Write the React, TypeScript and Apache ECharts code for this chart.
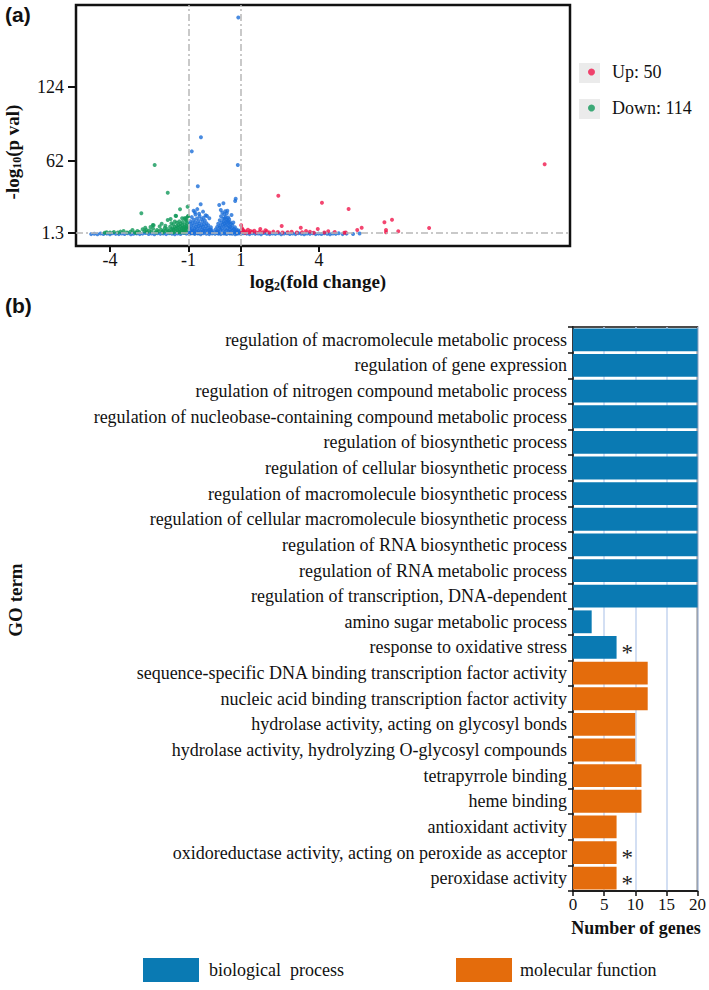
import React, { useEffect, useRef } from 'react';
import * as echarts from 'echarts';

// ---------- Panel (a): volcano plot ----------
const upPoints: [number, number][] = [
  [12.63, 59], [2.44, 32.6], [4.11, 26.7], [5.13, 21.4], [6.79, 12.4], [6.5, 10.2], [2.57, 7.1],
  [3.3, 5.7], [3.95, 4.6], [5.63, 5.7], [5.46, 3.8], [4.35, 2.7], [5.02, 1.6], [8.21, 5.5],
  [7.03, 2.7], [6.56, 3.8], [6.56, 1.8], [1.75, 4.6], [1.37, 2.9], [1.05, 5.2], [2.0, 2.7],
  [2.42, 2.1], [2.8, 1.8], [3.5, 2.9], [1.73, 2.4], [1.06, 2.0], [3.15, 1.6], [3.8, 1.5],
  [4.96, 1.5], [1.1, 3.4], [1.15, 1.8], [1.2, 2.6], [1.28, 4.0], [1.33, 1.6], [1.45, 2.2],
  [1.52, 3.1], [1.6, 1.7], [1.85, 1.9], [1.95, 3.6], [2.1, 1.6], [2.25, 2.4], [2.6, 1.7],
  [2.95, 2.3], [3.35, 1.9], [3.65, 2.2], [4.2, 1.7], [4.6, 2.0], [1.02, 7.8], [1.08, 3.9], [1.18, 1.5]
];

const downPoints: [number, number][] = [
  [-2.29, 58.4], [-1.79, 35.1], [-2.8, 17.8], [-1.32, 21.2], [-2.36, 8.0], [-1.49, 15.8],
  [-1.79, 12.2], [-1.68, 13.0], [-1.24, 13.6], [-1.09, 13.9], [-1.01, 15.5], [-1.03, 23.4],
  [-1.02, 15.0], [-4.13, 1.8], [-3.6, 2.4], [-3.14, 3.8], [-2.61, 3.8], [-2.33, 7.7],
  [-1.15, 13.6], [-1.47, 15.5], [-1.05, 9.5], [-1.08, 7.2], [-1.1, 5.4], [-1.12, 3.8],
  [-1.14, 8.6], [-1.16, 6.1], [-1.18, 4.5], [-1.2, 2.9], [-1.22, 10.4], [-1.24, 7.7],
  [-1.26, 5.2], [-1.28, 3.3], [-1.3, 9.1], [-1.32, 6.6], [-1.34, 4.1], [-1.36, 2.4],
  [-1.38, 8.0], [-1.4, 5.8], [-1.42, 3.6], [-1.45, 7.0], [-1.48, 4.8], [-1.5, 2.7],
  [-1.53, 6.2], [-1.56, 3.9], [-1.6, 5.1], [-1.63, 2.2], [-1.66, 4.3], [-1.7, 6.5],
  [-1.74, 3.1], [-1.78, 2.0], [-1.82, 4.6], [-1.86, 2.8], [-1.9, 5.5], [-1.95, 3.4],
  [-2.0, 2.3], [-2.05, 4.0], [-2.1, 6.8], [-2.15, 2.6], [-2.2, 3.7], [-2.27, 1.9],
  [-2.35, 4.9], [-2.42, 2.5], [-2.5, 3.3], [-2.58, 1.8], [-2.68, 2.7], [-2.75, 4.4],
  [-2.88, 2.1], [-2.95, 3.0], [-3.05, 1.7], [-3.22, 2.2], [-3.35, 1.6], [-3.48, 3.0],
  [-3.7, 1.7], [-3.85, 2.0], [-4.0, 1.6], [-4.2, 1.5], [-1.07, 11.6], [-1.11, 12.3],
  [-1.06, 4.7], [-1.09, 2.6], [-1.17, 1.9], [-1.27, 1.7], [-1.35, 11.0], [-1.44, 9.8],
  [-1.52, 10.9], [-1.58, 8.3], [-1.65, 9.5], [-1.72, 1.6], [-1.88, 7.4], [-2.02, 9.0],
  [-2.45, 6.2], [-2.65, 5.7], [-1.04, 6.3], [-1.13, 1.6], [-1.21, 5.9], [-1.39, 1.8],
  [-1.57, 1.7], [-1.98, 1.6], [-2.22, 1.7], [-3.0, 1.5]
];

const nsPoints: [number, number][] = [
  // baseline band
  [-4.72, 0.3], [-4.6, 0.6], [-4.48, 0.2], [-4.36, 0.9], [-4.25, 0.4], [-4.12, 0.7], [-4.0, 0.2],
  [-3.9, 1.0], [-3.78, 0.5], [-3.66, 0.3], [-3.55, 0.8], [-3.44, 0.4], [-3.32, 1.1], [-3.2, 0.2],
  [-3.1, 0.6], [-2.98, 0.9], [-2.86, 0.3], [-2.75, 0.7], [-2.64, 1.2], [-2.52, 0.4], [-2.41, 0.8],
  [-2.3, 0.2], [-2.18, 1.0], [-2.07, 0.5], [-1.96, 0.9], [-1.85, 0.3], [-1.74, 1.1], [-1.63, 0.6],
  [-1.52, 0.2], [-1.41, 0.9], [-1.3, 0.4], [-1.19, 1.2], [-1.08, 0.7], [-0.97, 0.3], [-0.86, 1.1],
  [-0.75, 0.5], [-0.64, 0.8], [-0.53, 0.2], [-0.42, 1.0], [-0.31, 0.6], [-0.2, 0.3], [-0.09, 0.9],
  [0.02, 0.5], [0.13, 1.1], [0.24, 0.3], [0.35, 0.8], [0.46, 0.4], [0.57, 1.0], [0.68, 0.6],
  [0.79, 0.2], [0.9, 0.9], [1.01, 0.4], [1.12, 1.1], [1.23, 0.7], [1.34, 0.3], [1.45, 1.0],
  [1.56, 0.5], [1.67, 0.8], [1.78, 0.2], [1.89, 1.2], [2.0, 0.6], [2.11, 0.3], [2.22, 0.9],
  [2.33, 0.5], [2.44, 1.0], [2.55, 0.2], [2.66, 0.7], [2.77, 1.1], [2.88, 0.4], [2.99, 0.8],
  [3.1, 0.3], [3.21, 1.0], [3.32, 0.6], [3.43, 0.2], [3.54, 0.9], [3.65, 0.5], [3.76, 1.1],
  [3.87, 0.3], [3.98, 0.7], [4.09, 0.4], [4.2, 1.0], [4.31, 0.6], [4.42, 0.2], [4.53, 0.8],
  [4.64, 0.5], [4.75, 1.1], [4.9, 0.3], [5.05, 0.7], [5.3, 0.4], [5.55, 0.9],
  // left lobe
  [-0.98, 2.1], [-0.96, 5.5], [-0.95, 8.9], [-0.93, 3.6], [-0.92, 11.2], [-0.9, 6.8], [-0.88, 1.9],
  [-0.87, 14.6], [-0.86, 4.4], [-0.84, 9.7], [-0.83, 2.8], [-0.81, 7.5], [-0.8, 20.0], [-0.79, 12.4],
  [-0.77, 5.1], [-0.76, 3.2], [-0.74, 10.3], [-0.73, 16.8], [-0.71, 6.2], [-0.7, 2.4], [-0.68, 8.4],
  [-0.67, 13.5], [-0.65, 4.7], [-0.64, 40.5], [-0.62, 11.1], [-0.61, 3.0], [-0.6, 7.1], [-0.58, 9.2],
  [-0.57, 15.3], [-0.55, 5.6], [-0.54, 2.2], [-0.53, 25.5], [-0.52, 81.7], [-0.51, 12.9], [-0.49, 8.0],
  [-0.48, 4.1], [-0.46, 10.8], [-0.45, 6.5], [-0.43, 2.9], [-0.42, 14.0], [-0.4, 8.7], [-0.38, 4.8],
  [-0.37, 11.7], [-0.35, 3.4], [-0.33, 6.9], [-0.31, 9.5], [-0.29, 15.5], [-0.28, 2.6], [-0.26, 5.3],
  [-0.24, 7.8], [-0.22, 3.7], [-0.2, 13.6], [-0.18, 1.8], [-0.16, 4.2], [-0.14, 6.0], [-0.12, 2.3],
  [-0.1, 3.5], [-0.08, 1.6], [-0.87, 69.9], [-0.75, 18.7], [-0.66, 21.3], [-0.59, 17.4], [-0.44, 19.2],
  [-0.34, 16.1], [-0.47, 1.5], [-0.63, 1.2], [-0.78, 0.9], [-0.91, 1.0],
  // right lobe
  [0.02, 2.0], [0.05, 4.3], [0.08, 1.7], [0.1, 6.4], [0.12, 3.1], [0.14, 9.0], [0.16, 2.5],
  [0.18, 24.8], [0.19, 5.8], [0.2, 12.0], [0.22, 7.3], [0.23, 3.9], [0.24, 20.6], [0.25, 15.4],
  [0.27, 10.1], [0.28, 5.0], [0.3, 18.3], [0.31, 8.2], [0.32, 2.7], [0.33, 13.2], [0.34, 26.2],
  [0.35, 11.0], [0.36, 6.6], [0.37, 16.9], [0.38, 9.4], [0.39, 13.6], [0.4, 4.5], [0.41, 19.5],
  [0.42, 7.7], [0.43, 14.8], [0.44, 10.6], [0.45, 3.3], [0.46, 12.5], [0.47, 17.8], [0.48, 8.6],
  [0.49, 20.0], [0.5, 5.6], [0.51, 11.6], [0.52, 14.3], [0.53, 2.9], [0.54, 9.9], [0.55, 7.0],
  [0.56, 12.9], [0.58, 4.0], [0.59, 10.5], [0.6, 6.3], [0.62, 8.9], [0.63, 2.3], [0.65, 16.4],
  [0.66, 5.2], [0.68, 7.9], [0.7, 3.6], [0.72, 10.0], [0.74, 4.7], [0.76, 2.1], [0.78, 6.1],
  [0.79, 28.2], [0.8, 3.0], [0.81, 30.0], [0.82, 1.8], [0.84, 4.2], [0.86, 2.6], [0.88, 1.6],
  [0.89, 58.4], [0.91, 182.5], [0.92, 3.4], [0.94, 1.9], [0.96, 2.4], [0.39, 1.0], [0.6, 0.8],
  [0.15, 0.7], [0.85, 0.9]
];

const volcanoXTicks = [-4, -1, 1, 4];
const volcanoYTicks = [1.3, 62, 124];
const foldThresholds = [-1, 1];
const pThreshold = 1.3;
const upLabel = 'Up: 50';
const downLabel = 'Down: 114';

// ---------- Panel (b): GO enrichment bars ----------
const goTerms = [
  'regulation of macromolecule metabolic process',
  'regulation of gene expression',
  'regulation of nitrogen compound metabolic process',
  'regulation of nucleobase-containing compound metabolic process',
  'regulation of biosynthetic process',
  'regulation of cellular biosynthetic process',
  'regulation of macromolecule biosynthetic process',
  'regulation of cellular macromolecule biosynthetic process',
  'regulation of RNA biosynthetic process',
  'regulation of RNA metabolic process',
  'regulation of transcription, DNA-dependent',
  'amino sugar metabolic process',
  'response to oxidative stress',
  'sequence-specific DNA binding transcription factor activity',
  'nucleic acid binding transcription factor activity',
  'hydrolase activity, acting on glycosyl bonds',
  'hydrolase activity, hydrolyzing O-glycosyl compounds',
  'tetrapyrrole binding',
  'heme binding',
  'antioxidant activity',
  'oxidoreductase activity, acting on peroxide as acceptor',
  'peroxidase activity'
];
const bpCounts = [20, 20, 20, 20, 20, 20, 20, 20, 20, 20, 20, 3, 7];
const mfCounts = [12, 12, 10, 10, 11, 11, 7, 7, 7];
const significantTerms = [
  'response to oxidative stress',
  'oxidoreductase activity, acting on peroxide as acceptor',
  'peroxidase activity'
];
const geneAxisMax = 20;
const geneAxisStep = 5;
const bpName = 'biological  process';
const mfName = 'molecular function';

const SERIF = 'Liberation Serif, Times New Roman, serif';
const SANS = 'Liberation Sans, Arial, sans-serif';
const BLUE_BAR = '#0a7ab3';
const ORANGE_BAR = '#e46c0c';
const NS_BLUE = '#1c6ed8';
const DOWN_GREEN = '#12995a';
const UP_RED = '#f0184c';

export default function App() {
  const ref = useRef<HTMLDivElement>(null);

  useEffect(() => {
    if (!ref.current) return;
    const chart = echarts.init(ref.current, undefined, { renderer: 'svg' });

    const makeItem = (term: string, v: number) =>
      significantTerms.includes(term)
        ? {
            value: v,
            label: {
              show: true,
              position: 'right',
              formatter: '*',
              distance: 5,
              fontSize: 23,
              fontFamily: SERIF,
              color: '#222',
              offset: [0, 5]
            }
          }
        : v;

    const bpData = goTerms.map((t, i) => (i < bpCounts.length ? makeItem(t, bpCounts[i]) : '-'));
    const mfData = goTerms.map((t, i) =>
      i >= bpCounts.length ? makeItem(t, mfCounts[i - bpCounts.length]) : '-'
    );

    const legendText = { fontFamily: SERIF, fontSize: 18, color: '#111' };
    const titleRich = {
      a: { fontFamily: SERIF, fontWeight: 'bold', fontSize: 19, fill: '#111', lineHeight: 21 },
      b: { fontFamily: SERIF, fontWeight: 'bold', fontSize: 12, fill: '#111', verticalAlign: 'bottom', lineHeight: 10 }
    };

    const option: any = {
      animation: false,
      backgroundColor: '#fff',
      textStyle: { fontFamily: SERIF },
      grid: [
        {
          left: 76, top: 5, width: 494, height: 241,
          show: true, borderColor: '#111', borderWidth: 2.5, backgroundColor: 'transparent'
        },
        {
          left: 573, top: 327, width: 125, height: 564,
          show: true, borderColor: '#111', borderWidth: 1.5, backgroundColor: 'transparent'
        }
      ],
      xAxis: [
        {
          type: 'value', gridIndex: 0, min: -5.3, max: 13.6,
          axisLine: { show: false, onZero: false },
          splitLine: { show: false },
          axisTick: {
            show: true, length: 6, customValues: volcanoXTicks,
            lineStyle: { color: '#111', width: 2 }
          },
          axisLabel: {
            customValues: volcanoXTicks, fontFamily: SERIF, fontSize: 18, color: '#111', margin: 5
          }
        },
        {
          type: 'value', gridIndex: 1, min: 0, max: geneAxisMax, interval: geneAxisStep,
          axisLine: { show: true, lineStyle: { color: '#111', width: 1.5 } },
          axisTick: { show: true, length: 5, lineStyle: { color: '#111', width: 1.5 } },
          splitLine: { show: true, lineStyle: { color: '#c5d4ef', width: 1.5 } },
          axisLabel: { fontFamily: SERIF, fontSize: 17, color: '#111', margin: 5 }
        }
      ],
      yAxis: [
        {
          type: 'value', gridIndex: 0, min: -9.7, max: 193,
          axisLine: { show: false, onZero: false },
          splitLine: { show: false },
          axisTick: {
            show: true, length: 8, customValues: volcanoYTicks,
            lineStyle: { color: '#111', width: 2 }
          },
          axisLabel: {
            customValues: volcanoYTicks, fontFamily: SERIF, fontSize: 18, color: '#111', margin: 12,
            formatter: (v: number) => String(v)
          }
        },
        {
          type: 'category', gridIndex: 1, data: goTerms, inverse: true,
          axisLine: { show: true, lineStyle: { color: '#111', width: 1.5 } },
          axisTick: { show: true, length: 5, alignWithLabel: false, lineStyle: { color: '#111', width: 1.5 } },
          axisLabel: { fontFamily: SERIF, fontSize: 18, color: '#111', margin: 6 }
        }
      ],
      legend: [
        {
          data: [upLabel], left: 588, top: 63, padding: 0,
          icon: 'circle', itemWidth: 7, itemHeight: 7, selectedMode: false,
          textStyle: { ...legendText, padding: [0, 0, 0, 12] }
        },
        {
          data: [downLabel], left: 588, top: 99, padding: 0,
          icon: 'circle', itemWidth: 7, itemHeight: 7, selectedMode: false,
          textStyle: { ...legendText, padding: [0, 0, 0, 12] }
        },
        {
          data: [bpName], left: 143, top: 958, padding: 0,
          icon: 'rect', itemWidth: 56, itemHeight: 24, selectedMode: false,
          textStyle: { ...legendText, padding: [0, 0, 0, 5] }
        },
        {
          data: [mfName], left: 456, top: 958, padding: 0,
          icon: 'rect', itemWidth: 56, itemHeight: 24, selectedMode: false,
          textStyle: { ...legendText, padding: [0, 0, 0, 3] }
        }
      ],
      graphic: [
        { type: 'text', left: 5, top: 4, style: { text: '(a)', font: `bold 21px ${SANS}`, fill: '#111' } },
        { type: 'text', left: 5, top: 295, style: { text: '(b)', font: `bold 21px ${SANS}`, fill: '#111' } },
        {
          type: 'text', x: 12, y: 152, rotation: Math.PI / 2,
          style: {
            text: '{a|-log}{b|10}{a|(p val)}',
            align: 'center', verticalAlign: 'middle',
            rich: titleRich
          }
        },
        {
          type: 'text', x: 318, y: 281,
          style: {
            text: '{a|log}{b|2}{a|(fold change)}',
            align: 'center', verticalAlign: 'middle',
            rich: titleRich
          }
        },
        { type: 'rect', shape: { x: 579, y: 63, width: 21, height: 20 }, style: { fill: '#ebebeb' }, z: -1 },
        { type: 'rect', shape: { x: 579, y: 99, width: 21, height: 20 }, style: { fill: '#ebebeb' }, z: -1 },
        {
          type: 'text', x: 15, y: 600, rotation: Math.PI / 2,
          style: {
            text: 'GO term', align: 'center', verticalAlign: 'middle',
            font: `bold 19px ${SERIF}`, fill: '#111'
          }
        },
        {
          type: 'text', x: 636, y: 928,
          style: {
            text: 'Number of genes', align: 'center', verticalAlign: 'middle',
            font: `bold 18px ${SERIF}`, fill: '#111'
          }
        }
      ],
      series: [
        {
          name: 'Not significant', type: 'scatter', xAxisIndex: 0, yAxisIndex: 0,
          symbol: 'circle', symbolSize: 4, data: nsPoints,
          itemStyle: { color: NS_BLUE },
          markLine: {
            silent: true, symbol: ['none', 'none'], label: { show: false },
            lineStyle: { color: '#b8b8b8', width: 1.5, type: [7, 3, 2, 3] },
            data: [...foldThresholds.map((x) => ({ xAxis: x })), { yAxis: pThreshold }]
          }
        },
        {
          name: downLabel, type: 'scatter', xAxisIndex: 0, yAxisIndex: 0,
          symbol: 'circle', symbolSize: 4, data: downPoints, itemStyle: { color: DOWN_GREEN }
        },
        {
          name: upLabel, type: 'scatter', xAxisIndex: 0, yAxisIndex: 0,
          symbol: 'circle', symbolSize: 4, data: upPoints, itemStyle: { color: UP_RED }
        },
        {
          name: bpName, type: 'bar', xAxisIndex: 1, yAxisIndex: 1, stack: 'go',
          barCategoryGap: '11%', data: bpData, itemStyle: { color: BLUE_BAR }
        },
        {
          name: mfName, type: 'bar', xAxisIndex: 1, yAxisIndex: 1, stack: 'go',
          barCategoryGap: '11%', data: mfData, itemStyle: { color: ORANGE_BAR }
        }
      ]
    };

    chart.setOption(option);
    return () => chart.dispose();
  }, []);

  return (
    <div
      ref={ref}
      style={{ position: 'absolute', left: 0, top: 0, width: 709, height: 990, background: '#fff' }}
    />
  );
}
